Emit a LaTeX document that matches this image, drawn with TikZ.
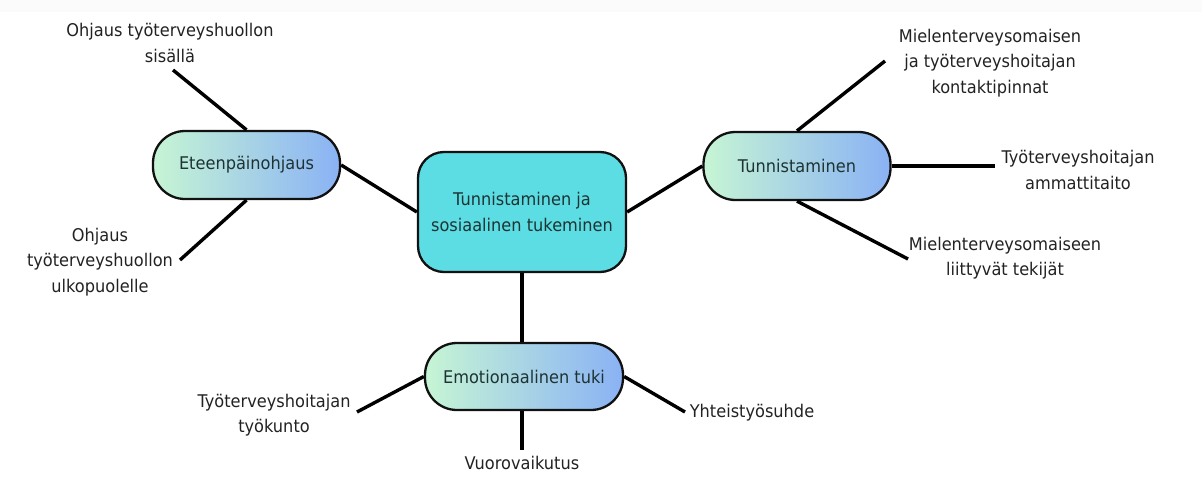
\documentclass[tikz,border=0pt]{standalone}
\usepackage{fontspec}
\setmainfont{DejaVu Sans}[FakeStretch=0.925]
\definecolor{txt}{HTML}{222222}
\definecolor{ntxt}{HTML}{1E3333}
\definecolor{cfill}{HTML}{5CDDE3}
\definecolor{gl}{HTML}{C6F5D4}
\definecolor{gr}{HTML}{8AB2F5}
\definecolor{edge}{HTML}{111111}
\begin{document}
\begin{tikzpicture}[x=1pt,y=-1pt,
  every node/.style={font=\fontsize{17.5}{25.5}\selectfont},
  leaf/.style={align=center,text=txt,inner sep=0pt},
  pill/.style={draw=edge,line width=2.3pt,rounded corners=32pt,minimum width=187pt,minimum height=68pt,left color=gl,right color=gr,text=ntxt,inner sep=0pt},
  hub/.style={draw=edge,line width=2.3pt,rounded corners=26pt,minimum width=208pt,minimum height=120pt,fill=cfill,text=ntxt,align=center,inner sep=0pt},
  conn/.style={line width=3.4pt,draw=black}]
\useasboundingbox (0,0) rectangle (1202,477);
\fill[gray!3] (0,0) rectangle (1202,12);
% nodes
\node[hub] (c) at (522,212) {Tunnistaminen ja\\sosiaalinen tukeminen};
\node[pill] (e) at (246.5,165) {Eteenpäinohjaus};
\node[pill] (t) at (797,166) {Tunnistaminen};
\node[pill,minimum width=198pt,minimum height=67pt] (m) at (524,376.5) {Emotionaalinen tuki};
% leaf texts
\node[leaf] (l1) at (170,43) {Ohjaus työterveyshuollon\\sisällä};
\node[leaf] (l2) at (100,262) {Ohjaus\\työterveyshuollon\\ulkopuolelle};
\node[leaf] (r1) at (990,63) {Mielenterveysomaisen\\ja työterveyshoitajan\\kontaktipinnat};
\node[leaf] (r2) at (1078,170) {Työterveyshoitajan\\ammattitaito};
\node[leaf] (r3) at (1005,258) {Mielenterveysomaiseen\\liittyvät tekijät};
\node[leaf] (b1) at (274,415) {Työterveyshoitajan\\työkunto};
\node[leaf] (b2) at (522,463) {Vuorovaikutus};
\node[leaf] (b3) at (752,413) {Yhteistyösuhde};
% free ends
\coordinate (el1) at (173,70);
\coordinate (el2) at (180,260);
\coordinate (tr1) at (885,61);
\coordinate (tr2) at (995,166);
\coordinate (tr3) at (908,259);
\coordinate (mb1) at (357,412);
\coordinate (mb2) at (522,450);
\coordinate (mb3) at (685,412);
% connectors
\draw[conn] (e.east) -- (c.west);
\draw[conn] (c.east) -- (t.west);
\draw[conn] (c.south -| mb2) -- (m.north -| mb2);
\draw[conn] (e.north) -- (el1);
\draw[conn] (e.south) -- (el2);
\draw[conn] (t.north) -- (tr1);
\draw[conn] (t.east) -- (tr2);
\draw[conn] (t.south) -- (tr3);
\draw[conn] (m.west) -- (mb1);
\draw[conn] (m.south -| mb2) -- (mb2);
\draw[conn] (m.east) -- (mb3);
\end{tikzpicture}
\end{document}
